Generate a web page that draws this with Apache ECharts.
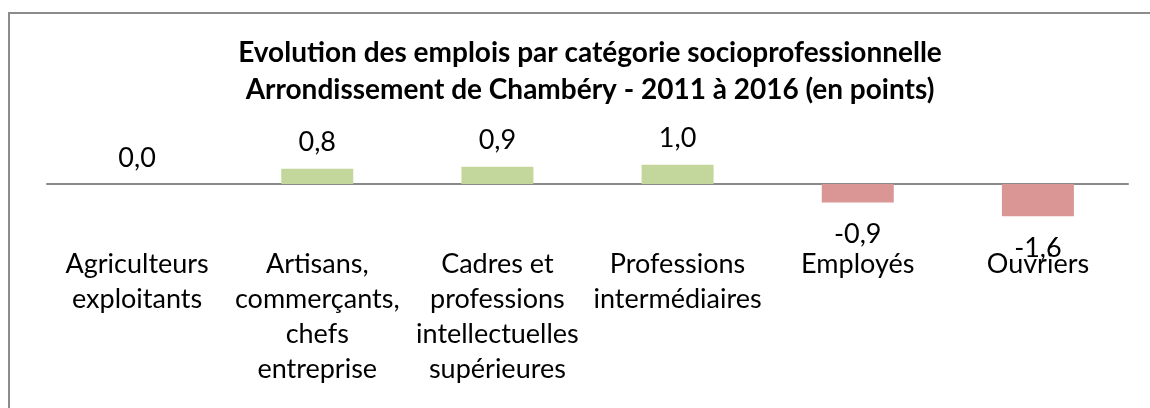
<!DOCTYPE html>
<html>
<head>
<meta charset="utf-8">
<script src="https://cdn.jsdelivr.net/npm/echarts@6/dist/echarts.min.js"></script>
<style>
html,body{margin:0;padding:0;background:#fff;}
#chart{width:1150px;height:408px;}
</style>
</head>
<body>
<div id="chart"></div>
<script>
const categories = [
  "Agriculteurs\nexploitants",
  "Artisans,\ncommerçants,\nchefs\nentreprise",
  "Cadres et\nprofessions\nintellectuelles\nsupérieures",
  "Professions\nintermédiaires",
  "Employés",
  "Ouvriers"
];
const values = [0.0, 0.77, 0.87, 0.97, -0.93, -1.63];
const titleLines = [
  "Evolution des emplois par catégorie socioprofessionnelle",
  "Arrondissement de Chambéry - 2011 à 2016 (en points)"
];

const FONT = "Lato, 'Open Sans', sans-serif";
const fmt = v => v.toFixed(1).replace('.', ',').replace('-0,0', '0,0');

const seriesData = values.map(v => ({
  value: v,
  itemStyle: { color: v >= 0 ? '#c3d69b' : '#d99694' },
  label: {
    position: v >= 0 ? 'top' : 'bottom',
    distance: v >= 0 ? 10 : 16
  }
}));

const chart = echarts.init(document.getElementById('chart'));
chart.setOption({
  animation: false,
  backgroundColor: '#ffffff',
  graphic: [{
    type: 'rect',
    shape: { x: 9, y: 13, width: 1160, height: 420 },
    style: { fill: 'none', stroke: '#8c8c8c', lineWidth: 2 },
    silent: true
  }],
  title: {
    text: titleLines.join('\n'),
    left: 585,
    top: 29,
    textAlign: 'center',
    textStyle: {
      fontFamily: FONT,
      fontWeight: 'bold',
      fontSize: 28,
      lineHeight: 37,
      color: '#000'
    }
  },
  grid: { left: 47, right: 22, top: 124.6, height: 118.8, containLabel: false, outerBoundsMode: 'none' },
  xAxis: {
    type: 'category',
    data: categories,
    axisLine: { onZero: true, lineStyle: { color: '#898989', width: 2 } },
    axisTick: { show: false },
    axisLabel: {
      interval: 0,
      margin: 3,
      fontFamily: FONT,
      fontSize: 27,
      lineHeight: 35,
      color: '#000',
      align: 'center'
    }
  },
  yAxis: {
    type: 'value',
    min: -3,
    max: 3,
    show: false,
    splitLine: { show: false }
  },
  series: [{
    type: 'bar',
    data: seriesData,
    barWidth: 72,
    label: {
      show: true,
      fontFamily: FONT,
      fontSize: 27,
      lineHeight: 32,
      color: '#000',
      formatter: p => fmt(p.value)
    }
  }]
});
</script>
</body>
</html>
